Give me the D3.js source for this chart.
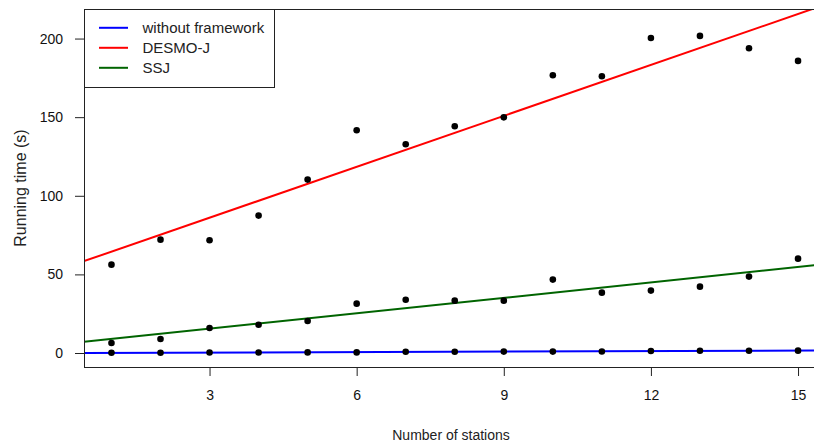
<!DOCTYPE html>
<html>
<head>
<meta charset="utf-8">
<script src="https://cdn.jsdelivr.net/npm/d3@7"></script>
<style>
  body { margin: 0; background: #fff; }
  svg { display: block; font-family: "Liberation Sans", Arial, sans-serif; }
</style>
</head>
<body>
<div id="chart"></div>
<script>
// number of stations
const stations = [1, 2, 3, 4, 5, 6, 7, 8, 9, 10, 11, 12, 13, 14, 15];
// running times (s)
const withoutFramework = [0.2, 0.2, 0.3, 0.3, 0.4, 0.4, 0.8, 0.8, 0.9, 0.9, 1.0, 1.3, 1.4, 1.4, 1.5];
const desmoJ = [56.2, 72.1, 71.7, 87.4, 110.3, 141.7, 132.8, 144.2, 149.9, 176.7, 176.0, 200.4, 201.7, 193.8, 185.8];
const ssj = [6.4, 8.9, 15.9, 18.0, 20.4, 31.4, 33.9, 33.3, 33.3, 46.7, 38.4, 39.7, 42.2, 48.6, 60.0];
const xTicks = [3, 6, 9, 12, 15];
const yTicks = [0, 50, 100, 150, 200];
const seriesNames = ['without framework', 'DESMO-J', 'SSJ'];
const seriesColors = ['#0000ff', '#ff0000', '#006400'];

const width = 814;
const height = 444;
// plot region (right edge runs off the picture, like the original)
const plot = { left: 84, top: 9, right: 825.5, bottom: 367 };

const series = [withoutFramework, desmoJ, ssj].map((values, i) => ({
  name: seriesNames[i],
  color: seriesColors[i],
  values,
}));

// least squares fit, like abline(lm(y ~ x))
function fit(xs, ys) {
  const mx = d3.mean(xs), my = d3.mean(ys);
  const sxy = d3.sum(xs, (v, i) => (v - mx) * (ys[i] - my));
  const sxx = d3.sum(xs, v => (v - mx) * (v - mx));
  const slope = sxy / sxx;
  return { slope, intercept: my - slope * mx };
}

const x = d3.scaleLinear().domain([0.44, 15.56]).range([plot.left, plot.right]);
const y = d3.scaleLinear().domain([-8.9, 218.8]).range([plot.bottom, plot.top]);

const svg = d3.select('#chart').append('svg')
  .attr('width', width)
  .attr('height', height);

svg.append('clipPath').attr('id', 'plot-clip')
  .append('rect')
  .attr('x', plot.left).attr('y', plot.top)
  .attr('width', plot.right - plot.left).attr('height', plot.bottom - plot.top);

// regression lines
const lines = svg.append('g').attr('clip-path', 'url(#plot-clip)');
series.forEach(s => {
  const f = fit(stations, s.values);
  const [x0, x1] = x.domain();
  lines.append('line')
    .attr('x1', x(x0)).attr('y1', y(f.intercept + f.slope * x0))
    .attr('x2', x(x1)).attr('y2', y(f.intercept + f.slope * x1))
    .attr('stroke', s.color)
    .attr('stroke-width', 2);
});

// points
const pts = svg.append('g');
series.forEach(s => {
  pts.selectAll(null)
    .data(s.values)
    .join('circle')
    .attr('cx', (d, i) => x(stations[i]))
    .attr('cy', d => y(d))
    .attr('r', 3.3)
    .attr('fill', '#000');
});

// axes
const xAxis = svg.append('g')
  .attr('transform', `translate(0,${plot.bottom})`)
  .call(d3.axisBottom(x).tickValues(xTicks).tickSize(9).tickPadding(14));
const yAxis = svg.append('g')
  .attr('transform', `translate(${plot.left},0)`)
  .call(d3.axisLeft(y).tickValues(yTicks).tickSize(9).tickPadding(12));
[xAxis, yAxis].forEach(g => {
  g.select('.domain').remove();
  g.selectAll('text').attr('font-size', 14).attr('fill', '#111').attr('font-family', null);
  g.selectAll('line').attr('stroke', '#222');
});

// box around the plot
svg.append('rect')
  .attr('x', plot.left + 0.5).attr('y', plot.top + 0.5)
  .attr('width', plot.right - plot.left).attr('height', plot.bottom - plot.top)
  .attr('fill', 'none')
  .attr('stroke', '#222');

// axis titles
svg.append('text')
  .attr('x', 451).attr('y', 440)
  .attr('text-anchor', 'middle')
  .attr('font-size', 14)
  .attr('fill', '#222')
  .text('Number of stations');

svg.append('text')
  .attr('transform', 'translate(26,188) rotate(-90)')
  .attr('text-anchor', 'middle')
  .attr('font-size', 16)
  .attr('fill', '#222')
  .text('Running time (s)');

// legend
const legend = svg.append('g');
legend.append('rect')
  .attr('x', plot.left + 0.5).attr('y', plot.top + 0.5)
  .attr('width', 190).attr('height', 78)
  .attr('fill', '#fff')
  .attr('stroke', '#222');
const item = legend.selectAll('g.item')
  .data(series)
  .join('g')
  .attr('class', 'item')
  .attr('transform', (d, i) => `translate(0,${27.8 + i * 20})`);
item.append('line')
  .attr('x1', 99).attr('x2', 128)
  .attr('stroke', d => d.color)
  .attr('stroke-width', 2);
item.append('text')
  .attr('x', 142.5)
  .attr('dy', '0.36em')
  .attr('font-size', 15)
  .attr('fill', '#222')
  .text(d => d.name);
</script>
</body>
</html>
